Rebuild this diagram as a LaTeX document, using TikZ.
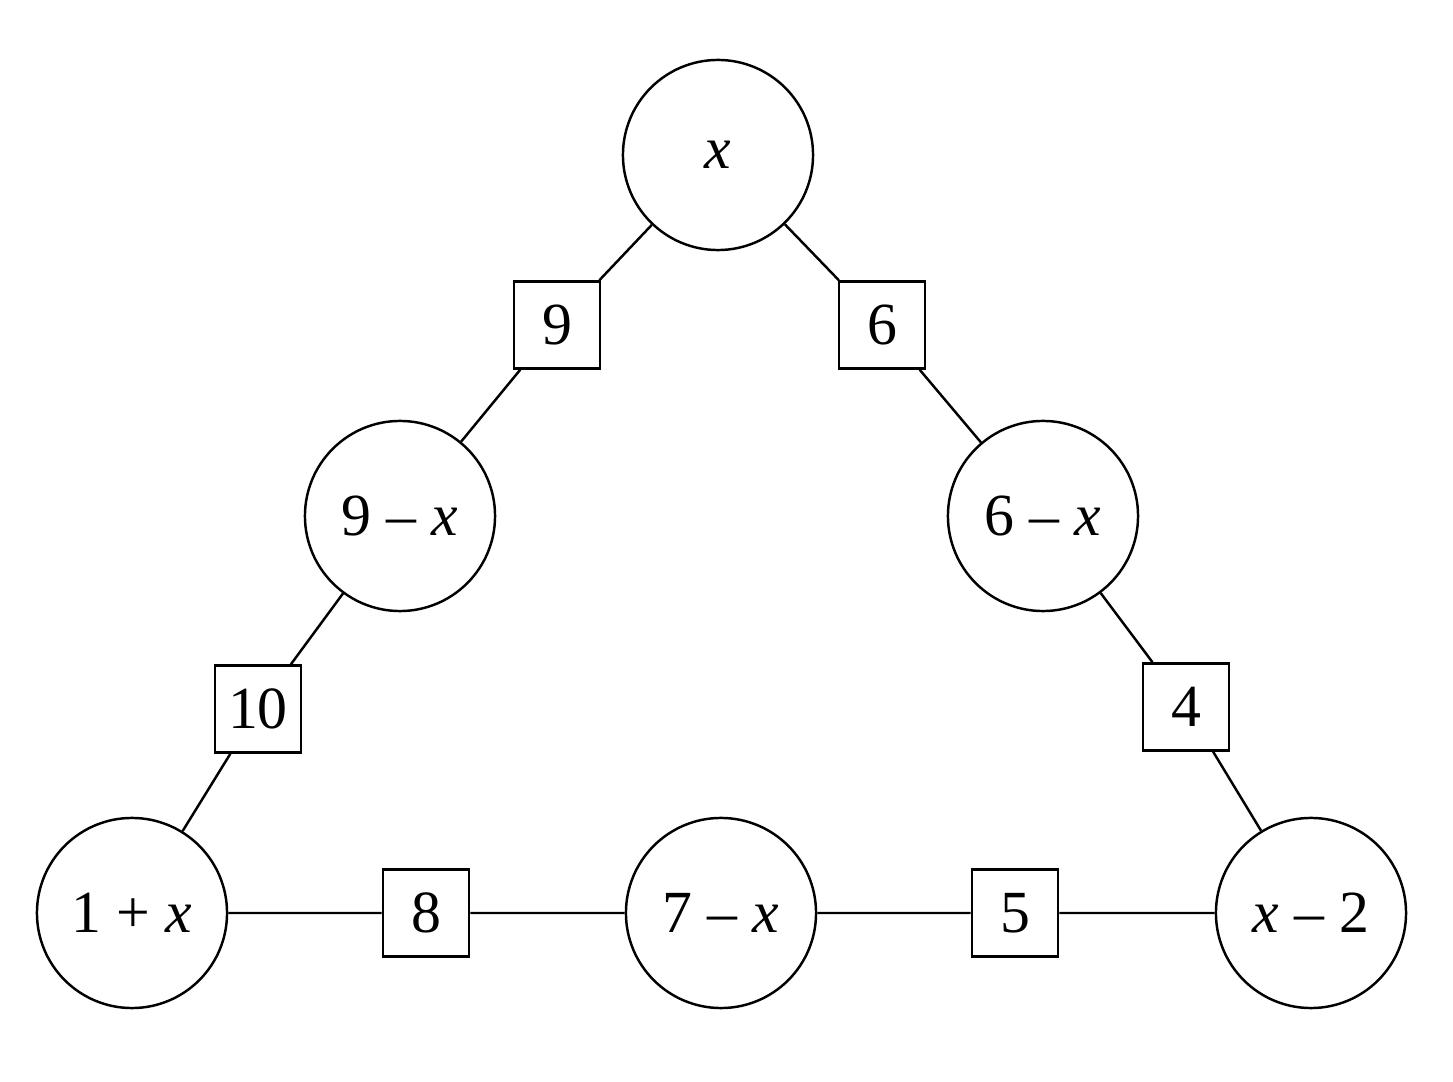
\documentclass[tikz,border=0pt]{standalone}
\usepackage{fontspec}
\setmainfont{Liberation Serif}
\begin{document}
\begin{tikzpicture}[x=0.01cm,y=-0.01cm,
  c/.style={circle,draw,line width=0.7pt,minimum size=1.9cm,inner sep=0pt,font=\fontsize{17}{20}\selectfont},
  s/.style={rectangle,draw,line width=0.7pt,minimum width=0.86cm,minimum height=0.87cm,inner sep=0pt,font=\fontsize{17}{20}\selectfont},
  e/.style={line width=0.7pt}]
\useasboundingbox (0,0) rectangle (1453,1082);
\node[c] (t) at (718,155) {\textit{x}};
\node[c] (l) at (400,516) {9 – \textit{x}};
\node[c] (r) at (1043,516) {6 – \textit{x}};
\node[c] (bl) at (132,913) {1 + \textit{x}};
\node[c] (bm) at (721,913) {7 – \textit{x}};
\node[c] (br) at (1311,913) {\textit{x} – 2};
\node[s] (s9) at (557,325) {9};
\node[s] (s6) at (882,325) {6};
\node[s] (s10) at (258,709) {10};
\node[s] (s4) at (1186,707) {4};
\node[s] (s8) at (426,913) {8};
\node[s] (s5) at (1015,913) {5};
\draw[e] (t) -- (s9) -- (l) -- (s10) -- (bl) -- (s8) -- (bm) -- (s5) -- (br) -- (s4) -- (r) -- (s6) -- (t);
\end{tikzpicture}
\end{document}
